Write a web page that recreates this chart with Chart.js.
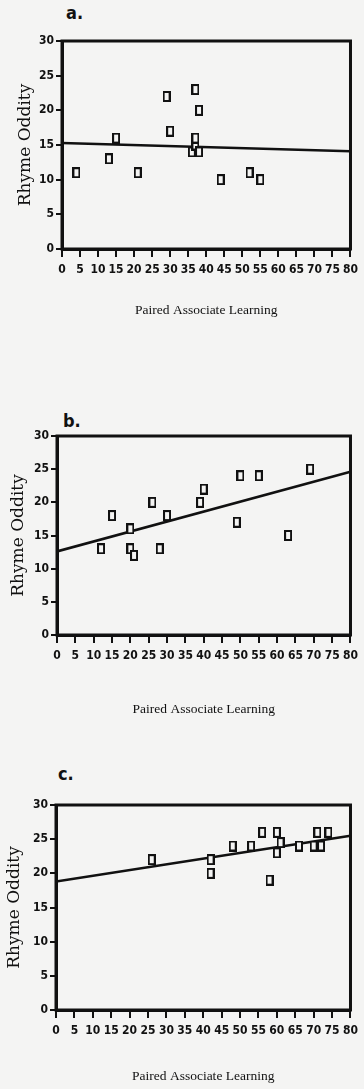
<!DOCTYPE html>
<html>
<head>
<meta charset="utf-8">
<script src="https://cdn.jsdelivr.net/npm/chart.js@4.4.1/dist/chart.umd.min.js"></script>
<style>
  body { margin: 0; background: #f4f4f3; width: 364px; height: 1089px; position: relative; overflow: hidden; }
  .panel { position: absolute; left: 0; }
  .tag { position: absolute; font: bold 18px 'Liberation Sans Narrow', 'DejaVu Sans Condensed', sans-serif; line-height: 18px; color: #111; }
</style>
</head>
<body>
<div class="tag" style="left:66px;top:4px">a.</div>
<canvas id="chartA" class="panel" style="top:0px" width="364" height="322"></canvas>
<div class="tag" style="left:63px;top:412px">b.</div>
<canvas id="chartB" class="panel" style="top:380px" width="364" height="341"></canvas>
<div class="tag" style="left:58px;top:765px">c.</div>
<canvas id="chartC" class="panel" style="top:740px" width="364" height="348"></canvas>

<script>
const xTicks = [0, 5, 10, 15, 20, 25, 30, 35, 40, 45, 50, 55, 60, 65, 70, 75, 80];
const yTicks = [0, 5, 10, 15, 20, 25, 30];

// panel a
const pairedA = [4, 13, 15, 21, 29, 30, 36, 37, 37, 37, 38, 38, 44, 52, 55];
const rhymeA  = [11, 13, 16, 11, 22, 17, 14, 15, 16, 23, 14, 20, 10, 11, 10];
const fitA = [15.3, 14.1];

// panel b
const pairedB = [12, 15, 20, 20, 21, 26, 28, 30, 39, 40, 49, 50, 55, 63, 69];
const rhymeB  = [13, 18, 16, 13, 12, 20, 13, 18, 20, 22, 17, 24, 24, 15, 25];
const fitB = [12.6, 24.6];

// panel c
const pairedC = [26, 42, 42, 48, 53, 56, 58, 60, 60, 61, 66, 70, 71, 72, 74];
const rhymeC  = [22, 22, 20, 24, 24, 26, 19, 26, 23, 24.5, 24, 24, 26, 24, 26];
const fitC = [18.8, 25.5];

const ink = '#111';
const paper = '#f4f4f3';
const tickFont = { family: "'Liberation Sans Narrow', 'DejaVu Sans Condensed', sans-serif", size: 12, weight: 'bold' };

// hollow upright box marker like the scan
function boxMarker() {
  const c = document.createElement('canvas');
  c.width = 8; c.height = 11;
  const g = c.getContext('2d');
  g.fillStyle = ink;
  g.fillRect(0, 0, 8, 11);
  g.fillStyle = paper;
  g.fillRect(2, 2, 4, 7);
  return c;
}
const marker = boxMarker();

const frame = {
  id: 'frame',
  afterDraw(chart) {
    const { ctx, chartArea: a } = chart;
    ctx.save();
    ctx.strokeStyle = ink;
    ctx.lineWidth = 3;
    ctx.strokeRect(a.left, a.top, a.right - a.left, a.bottom - a.top);
    ctx.restore();
  }
};

function makeChart(id, xs, ys, fit, g) {
  const pts = xs.map((x, i) => ({ x: x, y: ys[i] }));
  return new Chart(document.getElementById(id), {
    type: 'scatter',
    data: {
      datasets: [
        {
          data: pts,
          pointStyle: marker,
          pointRadius: 5,
          order: 0
        },
        {
          type: 'line',
          data: [{ x: 0, y: fit[0] }, { x: 80, y: fit[1] }],
          borderColor: ink,
          borderWidth: 2.5,
          pointRadius: 0,
          order: 1
        }
      ]
    },
    options: {
      responsive: false,
      animation: false,
      devicePixelRatio: 1,
      layout: { padding: { left: 0, right: g.right, top: g.top, bottom: 0 } },
      plugins: { legend: { display: false }, tooltip: { enabled: false } },
      scales: {
        x: {
          type: 'linear', min: 0, max: 80,
          afterBuildTicks: s => { s.ticks = xTicks.map(v => ({ value: v })); },
          afterFit: s => { s.height = g.xHeight; },
          ticks: { autoSkip: false, maxRotation: 0, padding: 6, color: ink, font: tickFont },
          grid: { drawOnChartArea: false, drawTicks: true, tickLength: 8, lineWidth: 2, color: ink },
          border: { display: true, width: 3, color: ink },
          title: {
            display: true, text: 'Paired Associate Learning', color: ink,
            font: { family: "'Liberation Serif', serif", size: 13.5 },
            padding: { top: 0, bottom: 3 }
          }
        },
        y: {
          min: 0, max: 30,
          afterBuildTicks: s => { s.ticks = yTicks.map(v => ({ value: v })); },
          afterFit: s => { s.width = g.left; },
          ticks: { padding: 2, color: ink, font: tickFont },
          grid: { drawOnChartArea: false, drawTicks: true, tickLength: 6, lineWidth: 2, color: ink },
          border: { display: true, width: 3, color: ink },
          title: {
            display: true, text: 'Rhyme Oddity', color: ink,
            font: { family: "'DejaVu Serif', serif", size: 17 },
            padding: { top: g.yTitlePad, bottom: 0 }
          }
        }
      }
    },
    plugins: [frame]
  });
}

makeChart('chartA', pairedA, rhymeA, fitA, { left: 62, right: 5, top: 41, xHeight: 73, yTitlePad: 15 });
makeChart('chartB', pairedB, rhymeB, fitB, { left: 57, right: 6, top: 56, xHeight: 86, yTitlePad: 8 });
makeChart('chartC', pairedC, rhymeC, fitC, { left: 56, right: 5, top: 65, xHeight: 78, yTitlePad: 4 });
</script>
</body>
</html>
